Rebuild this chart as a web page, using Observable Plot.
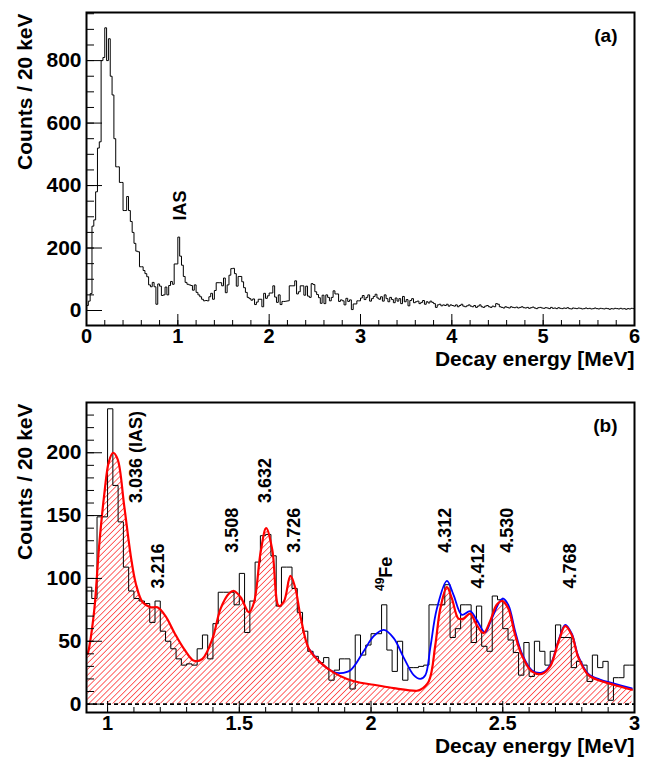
<!DOCTYPE html>
<html><head><meta charset="utf-8">
<script src="https://cdn.jsdelivr.net/npm/d3@7"></script>
<script src="https://cdn.jsdelivr.net/npm/@observablehq/plot@0.6"></script>
<style>body{margin:0;background:#fff;} #chart{width:651px;} svg{display:block;}</style>
</head><body><div id="chart"></div>
<script>
// ---- data -------------------------------------------------------------
const binWidth = 0.02; // MeV (20 keV bins), bin i starts at i*binWidth
const counts = [
 16, 30, 54, 270, 290, 380, 520, 540, 800, 810,
 905, 800, 870, 750, 690, 550, 460, 460, 410, 410,
 320, 320, 365, 320, 285, 250, 215, 190, 188, 140,
 140, 128, 118, 108, 82, 76, 90, 76, 20, 85,
 78, 48, 50, 75, 50, 80, 93, 84, 149, 149,
 235, 174, 145, 109, 90, 84, 82, 80, 65, 82,
 58, 50, 44, 36, 31, 32, 31, 44, 55, 36,
 64, 89, 89, 89, 79, 104, 57, 82, 113, 134,
 135, 118, 78, 109, 109, 92, 73, 58, 42, 38,
 33, 37, 19, 27, 36, 36, 12, 55, 39, 47,
 56, 56, 79, 43, 26, 50, 19, 29, 29, 30,
 31, 79, 79, 79, 95, 53, 60, 79, 79, 49,
 78, 46, 42, 86, 83, 60, 51, 41, 23, 49,
 22, 50, 42, 31, 42, 63, 53, 53, 29, 34,
 31, 18, 39, 29, 34, 3, 21, 21, 31, 31,
 40, 48, 35, 42, 50, 30, 38, 45, 52, 40,
 36, 44, 30, 50, 38, 28, 42, 35, 25, 40,
 30, 38, 22, 45, 28, 35, 15, 32, 38, 25,
 28, 30, 22, 26, 32, 20, 28, 24, 30, 26,
 22, 10, 18, 20, 15, 18, 16, 20, 14, 18,
 16, 14, 18, 12, 16, 20, 14, 12, 15, 18,
 14, 12, 16, 10, 14, 18, 12, 10, 14, 16,
 12, 10, 14, 12, 22, 20, 12, 10, 8, 12,
 10, 8, 12, 10, 9, 11, 8, 10, 12, 9,
 8, 10, 7, 9, 11, 8, 6, 9, 10, 8,
 7, 9, 8, 6, 10, 7, 8, 6, 9, 7,
 6, 8, 7, 9, 6, 5, 8, 7, 6, 8,
 7, 5, 6, 8, 6, 7, 5, 6, 8, 6,
 5, 7, 6, 5, 7, 6, 4, 6, 5, 7,
 6, 5, 7, 5, 6, 4, 6, 5, 7, 6
];

// total fit (red)
const redE = [0.925,0.931,0.95,0.968,0.987,1.005,1.021,1.038,1.063,1.088,1.107,1.133,1.164,1.189,1.22,1.253,1.29,1.328,1.36,1.398,1.429,1.461,1.48,1.505,1.537,1.556,1.581,1.602,1.625,1.65,1.67,1.694,1.713,1.732,1.764,1.808,1.859,1.909,1.96,2.01,2.086,2.174,2.187,2.219,2.244,2.263,2.288,2.307,2.332,2.351,2.376,2.401,2.427,2.452,2.477,2.499,2.521,2.547,2.572,2.61,2.648,2.68,2.712,2.737,2.762,2.787,2.825,2.869,2.92,2.99];
const redCounts = [40,46,76,126,166,193,200,195,158,118,96,81,77,77,70,57,44,34.5,36,52,76,88,90,85,73,81,121,140,123,78,82,102,92,70,44,33,25,20,17,15.4,12.7,10.6,11.4,18,47,76,93,84,68,68,72,63,56.5,66,79,82,76,55,39,26,24,30,50,62,55,37,23,18.6,15.4,11.4];

// fit including the 49Fe peak (blue)
const blueE = [1.764,1.808,1.859,1.884,1.922,1.972,2.01,2.048,2.086,2.124,2.162,2.187,2.206,2.225,2.25,2.288,2.313,2.345,2.376,2.401,2.433,2.458,2.499,2.521,2.547,2.572,2.61,2.648,2.68,2.712,2.737,2.762,2.787,2.825,2.869,2.92,2.99];
const blueCounts = [44,33,25.5,24.7,27,42,54,59,52.5,37,23,20,23,45,76,98,87,71,74,67,57,68,84,79,58,40.6,27,25,31,51,63,56,38,24,19.5,16.5,12.5];

// peak labels (panel b)
const peakLabels = ["3.036 (IAS)", "3.216", "3.508", "3.632", "3.726", "4.312", "4.412", "4.530", "4.768"];
const peakLabelE = [1.107, 1.192, 1.473, 1.600, 1.709, 2.280, 2.408, 2.516, 2.755];
const peakLabelCounts = [160, 92, 120.5, 160, 120.5, 120.5, 92, 120.5, 92];

// axis ticks
const xTicksA = [0, 1, 2, 3, 4, 5, 6];
const xTickLabelsA = ["0", "1", "2", "3", "4", "5", "6"];
const yTicksA = [0, 200, 400, 600, 800];
const xTicksB = [1, 1.5, 2, 2.5, 3];
const xTickLabelsB = ["1", "1.5", "2", "2.5", "3"];
const yTicksB = [0, 50, 100, 150, 200];

const xTitle = "Decay energy [MeV]";
const yTitle = "Counts / 20 keV";

// ---- helpers ----------------------------------------------------------
const FONT = "'Liberation Sans', Arial, Helvetica, sans-serif";
const bins = counts.map((c, i) => ({x: i * binWidth, y: c}));
const stepA = bins.concat([{x: counts.length * binWidth, y: counts[counts.length - 1]}]);
const stepB0 = bins.filter(d => d.x >= 0.92 - 1e-9 && d.x < 3.0 - 1e-9);
const stepB = stepB0.concat([{x: 3.0, y: stepB0[stepB0.length - 1].y}]);
const red = redE.map((e, i) => ({x: e, y: redCounts[i]}));
const blue = blueE.map((e, i) => ({x: e, y: blueCounts[i]}));
const peaks = peakLabels.map((t, i) => ({t, x: peakLabelE[i], y: peakLabelCounts[i]}));

function frameMarks(xt, xl, yt, xminor, yminor) {
  return [
    Plot.axisX(xminor, {tickSize: -5, fill: "none", label: null, strokeWidth: 1}),
    Plot.axisX(xt, {tickSize: -11, fill: "none", label: null, strokeWidth: 1}),
    Plot.axisX(xt, {tickSize: 0, tickPadding: 3, label: null, tickFormat: (d, i) => xl[i], fontSize: 20, fontWeight: "bold"}),
    Plot.axisY(yminor, {tickSize: -8, fill: "none", label: null, strokeWidth: 1}),
    Plot.axisY(yt, {tickSize: -16, fill: "none", label: null, strokeWidth: 1}),
    Plot.axisY(yt, {tickSize: 0, tickPadding: 5, label: null, tickFormat: d => String(d), fontSize: 21, fontWeight: "bold"}),
    Plot.frame({stroke: "black", strokeWidth: 2}),
    Plot.text([xTitle], {frameAnchor: "bottom-right", dy: 34, textAnchor: "end", lineAnchor: "middle", fontSize: 21, fontWeight: "bold"}),
    Plot.text([yTitle], {frameAnchor: "top-left", dx: -61, dy: 1, rotate: -90, textAnchor: "end", lineAnchor: "middle", fontSize: 21, fontWeight: "bold"})
  ];
}

// ---- panel (a) --------------------------------------------------------
const plotA = Plot.plot({
  width: 651, height: 382,
  marginLeft: 86, marginRight: 17, marginTop: 12, marginBottom: 57,
  style: {fontFamily: FONT, fontWeight: "bold", background: "white", color: "black"},
  x: {domain: [0, 6], axis: null},
  y: {domain: [-48, 954], axis: null},
  marks: [
    Plot.lineY(stepA, {x: "x", y: "y", curve: "step-after", stroke: "black", strokeWidth: 1}),
    Plot.text(["IAS"], {x: 1.03, y: 288, rotate: -90, textAnchor: "start", lineAnchor: "middle", fontSize: 18, fontWeight: "bold"}),
    Plot.text(["(a)"], {frameAnchor: "top-right", dx: -17, dy: 23, textAnchor: "end", lineAnchor: "middle", fontSize: 19, fontWeight: "bold"}),
    ...frameMarks(xTicksA, xTickLabelsA, yTicksA, d3.range(0, 6.01, 0.2), d3.range(0, 951, 50))
  ]
});

// ---- panel (b) --------------------------------------------------------
const plotB = Plot.plot({
  width: 651, height: 382,
  marginLeft: 86, marginRight: 17, marginTop: 20, marginBottom: 52,
  style: {fontFamily: FONT, fontWeight: "bold", background: "white", color: "black"},
  x: {domain: [0.92, 3.0], axis: null},
  y: {domain: [-6.7, 240], axis: null},
  marks: [
    Plot.areaY(red, {x: "x", y1: 0, y2: "y", curve: "catmull-rom", fill: "url(#hatchB)", stroke: "none"}),
    Plot.lineY(stepB, {x: "x", y: "y", curve: "step-after", stroke: "black", strokeWidth: 1}),
    Plot.ruleY([0], {stroke: "black", strokeWidth: 1.6, strokeDasharray: "4,3"}),
    Plot.lineY(blue, {x: "x", y: "y", curve: "catmull-rom", stroke: "#0000ff", strokeWidth: 1.8}),
    Plot.lineY(red, {x: "x", y: "y", curve: "catmull-rom", stroke: "#ff0000", strokeWidth: 2.2}),
    Plot.text(peaks, {x: "x", y: "y", text: "t", rotate: -90, textAnchor: "start", lineAnchor: "middle", fontSize: 18, fontWeight: "bold"}),
    Plot.text(["Fe"], {x: 2.057, y: 100.6, rotate: -90, textAnchor: "start", lineAnchor: "middle", fontSize: 18, fontWeight: "bold"}),
    Plot.text(["49"], {x: 2.033, y: 90, rotate: -90, textAnchor: "start", lineAnchor: "middle", fontSize: 12, fontWeight: "bold"}),
    Plot.text(["(b)"], {frameAnchor: "top-right", dx: -17, dy: 23, textAnchor: "end", lineAnchor: "middle", fontSize: 19, fontWeight: "bold"}),
    ...frameMarks(xTicksB, xTickLabelsB, yTicksB, d3.range(1.0, 3.001, 0.1), d3.range(0, 231, 10))
  ]
});

// hatch pattern for the fit area
d3.select(plotB).insert("defs", ":first-child").html(
  '<pattern id="hatchB" width="4.2" height="4.2" patternUnits="userSpaceOnUse" patternTransform="rotate(45)">' +
  '<line x1="0" y1="0" x2="0" y2="4.2" stroke="#ff0000" stroke-width="1.2"/></pattern>');

const chart = document.getElementById("chart");
chart.appendChild(plotA);
chart.appendChild(plotB);
</script>
</body></html>
